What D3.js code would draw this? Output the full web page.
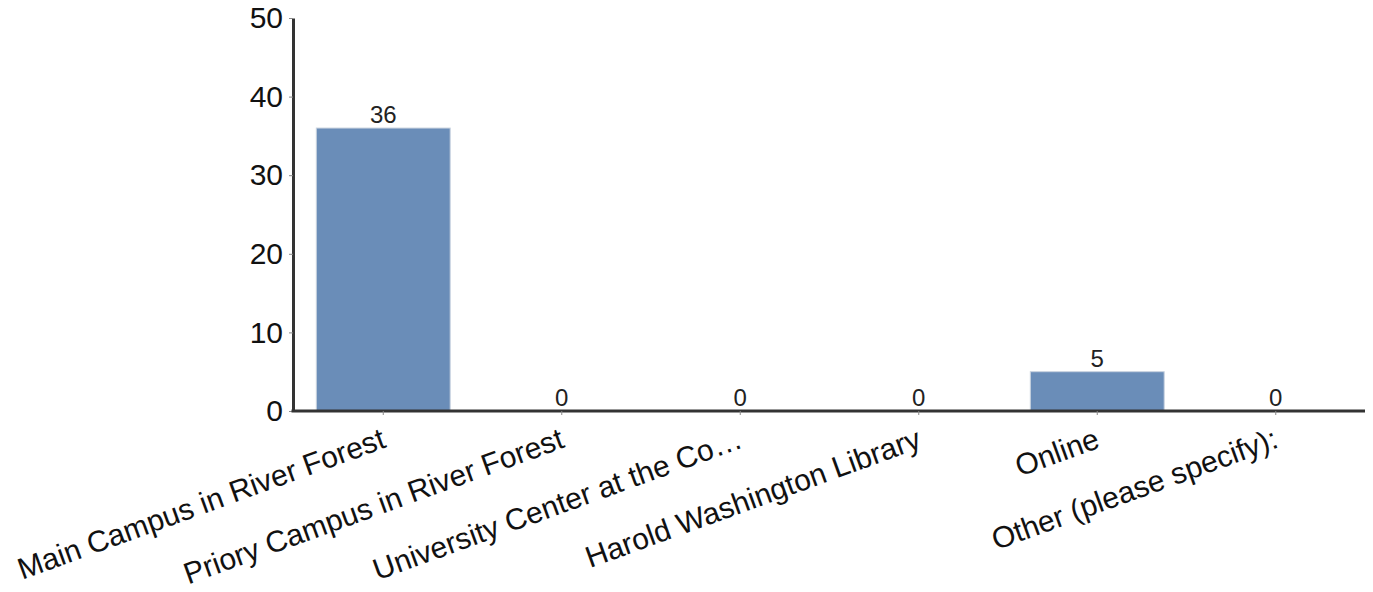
<!DOCTYPE html>
<html>
<head>
<meta charset="utf-8">
<script src="https://cdn.jsdelivr.net/npm/d3@7/dist/d3.min.js"></script>
<style>
  html, body { margin: 0; padding: 0; background: #fff; }
  svg { display: block; font-family: "Liberation Sans", Arial, sans-serif; }
</style>
</head>
<body>
<svg id="chart" width="1373" height="592"></svg>
<script>
const categories = [
  "Main Campus in River Forest",
  "Priory Campus in River Forest",
  "University Center at the Co\u2026",
  "Harold Washington Library",
  "Online",
  "Other (please specify):"
];
const values = [36, 0, 0, 0, 5, 0];
const yTicks = [0, 10, 20, 30, 40, 50];

const W = 1373, H = 592;
const margin = { top: 18, right: 8, bottom: 181, left: 294 };
const svg = d3.select("#chart");

const x = d3.scaleBand()
  .domain(categories)
  .range([margin.left, W - margin.right])
  .paddingInner(0.25)
  .paddingOuter(0.125);

const y = d3.scaleLinear()
  .domain([0, 50])
  .range([H - margin.bottom, margin.top]);

// bars
svg.append("g").selectAll("rect")
  .data(values)
  .join("rect")
  .attr("x", (d, i) => x(categories[i]))
  .attr("y", d => y(d))
  .attr("width", x.bandwidth())
  .attr("height", d => y(0) - y(d))
  .attr("fill", "#6a8db8")
  .attr("stroke", "#c9d3df")
  .attr("stroke-width", 1);

// value labels
svg.append("g").selectAll("text")
  .data(values)
  .join("text")
  .attr("x", (d, i) => x(categories[i]) + x.bandwidth() / 2)
  .attr("y", d => y(d) - 5)
  .attr("text-anchor", "middle")
  .attr("font-size", 24)
  .attr("fill", "#222")
  .text(d => d);

// y axis
const yAxis = svg.append("g")
  .attr("transform", `translate(${margin.left - 1},0)`)
  .call(d3.axisLeft(y).tickValues(yTicks).tickSize(4).tickSizeOuter(0).tickPadding(6));
yAxis.select(".domain").attr("stroke", "#333").attr("stroke-width", 3);
yAxis.selectAll(".tick line").attr("stroke", "#888");
yAxis.selectAll(".tick text")
  .attr("font-size", 30)
  .attr("fill", "#111")
  .attr("font-family", "'Liberation Sans', Arial, sans-serif");

// x axis
const xAxis = svg.append("g")
  .attr("transform", `translate(0,${H - margin.bottom})`)
  .call(d3.axisBottom(x).tickSize(4).tickSizeOuter(0));
xAxis.select(".domain")
  .attr("d", `M${margin.left - 2.5},0H${W - margin.right}`)
  .attr("stroke", "#333").attr("stroke-width", 3);
xAxis.selectAll(".tick line").attr("stroke", "#888");
xAxis.selectAll(".tick text")
  .attr("font-size", 30)
  .attr("fill", "#111")
  .attr("font-family", "'Liberation Sans', Arial, sans-serif")
  .attr("text-anchor", "end")
  .attr("dy", null)
  .attr("y", null)
  .attr("transform", "translate(4,36) rotate(-20)");
</script>
</body>
</html>
